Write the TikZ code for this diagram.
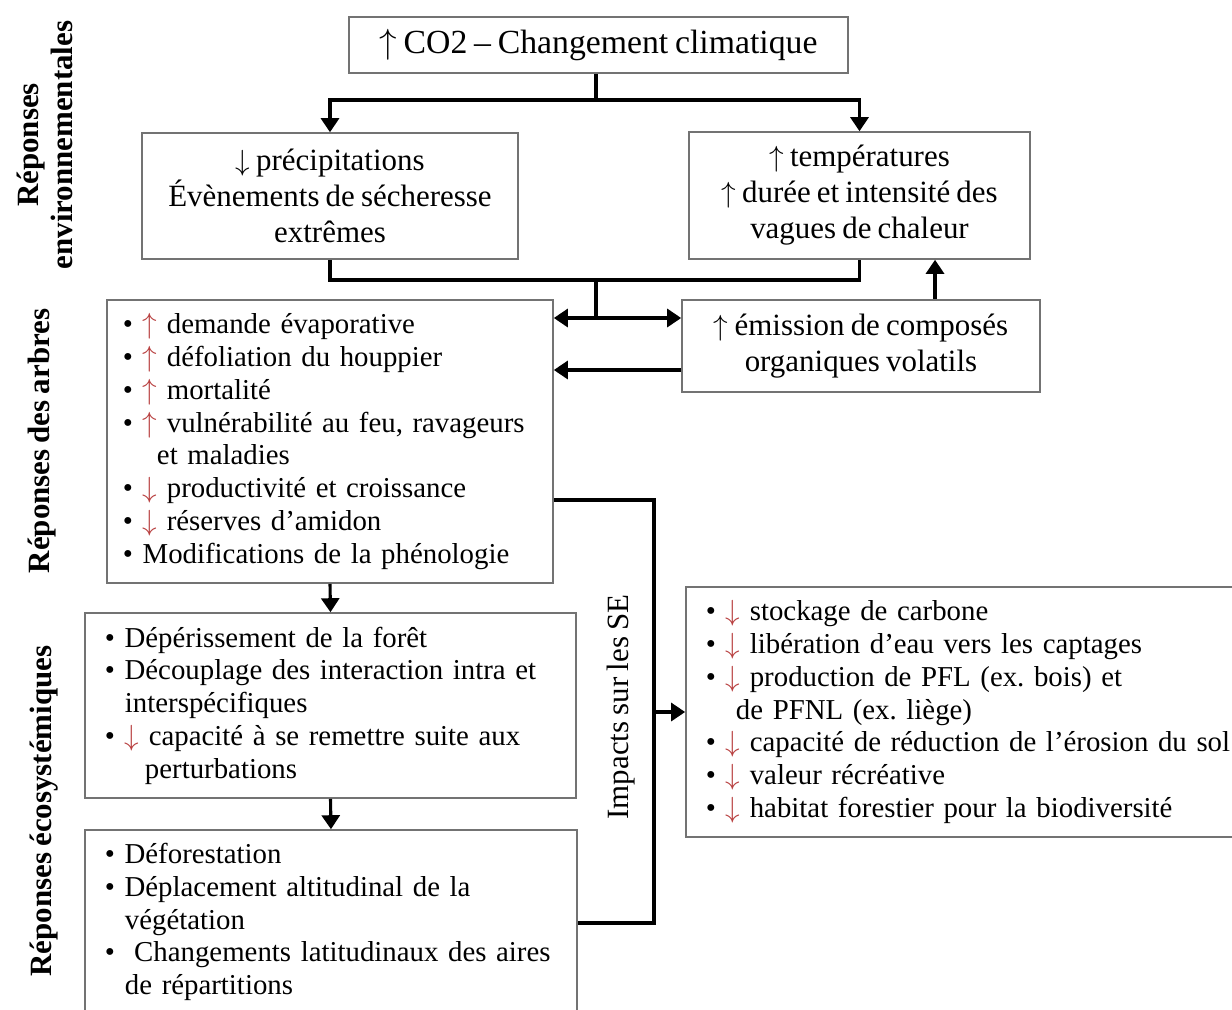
\documentclass[tikz,border=0pt]{standalone}
\usepackage{fontspec}
\setmainfont{Liberation Serif}[WordSpace=0.8]
\usetikzlibrary{positioning,arrows.meta}

\definecolor{rougefleche}{rgb}{0.72,0.25,0.25}
\newcommand{\hausse}{{\color{rougefleche}$\uparrow$}}
\newcommand{\baisse}{{\color{rougefleche}$\downarrow$}}
\frenchspacing

\tikzset{
	boite/.style={draw=black!55, line width=1.1pt, align=center, font=\fontsize{22}{25.6}\selectfont},
	liste/.style={draw=black!55, line width=1.1pt, align=left, font=\fontsize{20.5}{23.3}\selectfont},
	titreaxe/.style={rotate=90, align=center, font=\fontsize{22}{24}\selectfont\bfseries},
	ligne/.style={line width=2.2pt},
	fleche/.style={line width=2.2pt, -{Triangle[length=0.35cm,width=0.45cm]}},
	fleches/.style={line width=2.2pt, {Triangle[length=0.35cm,width=0.45cm]}-{Triangle[length=0.35cm,width=0.45cm]}}
}

\begin{document}
\begin{tikzpicture}[x=0.025cm, y=-0.025cm]
	\clip (0,0) rectangle (1232,1009);
	% titres des niveaux
	\node[titreaxe] (envTitre) at (45,145) {Réponses\\environnementales};
	\node[titreaxe] (arbTitre) at (42,441) {Réponses des arbres};
	\node[titreaxe] (ecoTitre) at (44,811) {Réponses écosystémiques};
	% boites
	\node[boite, font=\fontsize{24}{28}\selectfont, minimum width=12.475cm, minimum height=1.4cm, inner sep=0pt] (titre) at (598.5,45) {$\uparrow$ CO2 – Changement climatique};
	\node[boite, minimum width=9.4cm, minimum height=3.15cm, inner sep=0pt] (precip) at (330,196) {$\downarrow$ précipitations\\Évènements de sécheresse\\extrêmes};
	\node[boite, minimum width=8.525cm, minimum height=3.175cm, inner sep=0pt] (temp) at (859.5,195.5) {$\uparrow$ températures\\$\uparrow$ durée et intensité des\\vagues de chaleur};
	\node[boite, minimum width=8.95cm, minimum height=2.3cm, inner sep=0pt] (voc) at (861,346) {$\uparrow$ émission de composés\\organiques volatils};
	\node[liste, minimum height=7.075cm, inner xsep=0.4cm, text width=10.35cm] (arbres) at (330,441.5) {%
		• \hausse\ demande évaporative\\
		• \hausse\ défoliation du houppier\\
		• \hausse\ mortalité\\
		• \hausse\ vulnérabilité au feu, ravageurs\\
		\hspace*{0.85cm}et maladies\\
		• \baisse\ productivité et croissance\\
		• \baisse\ réserves d’amidon\\
		• Modifications de la phénologie};
	\node[liste, minimum height=4.625cm, inner xsep=0.5cm, text width=11.275cm] (eco1) at (330.5,705.5) {%
		• Dépérissement de la forêt\\
		• Découplage des interaction intra et\\
		\hspace*{0.5cm}interspécifiques\\
		• \baisse\ capacité à se remettre suite aux\\
		\hspace*{1cm}perturbations};
	\node[liste, minimum height=4.6cm, inner xsep=0.5cm, text width=11.3cm] (eco2) at (331,922) {%
		• Déforestation\\
		• Déplacement altitudinal de la\\
		\hspace*{0.5cm}végétation\\
		•\ \ Changements latitudinaux des aires\\
		\hspace*{0.5cm}de répartitions};
	\node[liste, minimum height=6.25cm, inner xsep=0.5cm, text width=13.6cm] (se) at (978,712) {%
		• \baisse\ stockage de carbone\\
		• \baisse\ libération d’eau vers les captages\\
		• \baisse\ production de PFL (ex. bois) et\\
		\hspace*{0.75cm}de PFNL (ex. liège)\\
		• \baisse\ capacité de réduction de l’érosion du sol\\
		• \baisse\ valeur récréative\\
		• \baisse\ habitat forestier pour la biodiversité};
	\node[rotate=90, font=\fontsize{22}{24}\selectfont] (impacts) at (621,707) {Impacts sur les SE};
	% points de jonction
	\coordinate (haut) at (596,100);
	\coordinate (fusion) at (596,280);
	\coordinate (jonction) at (596,318);
	\coordinate (retour) at (596,370);
	\coordinate (impHaut) at (654,500);
	\coordinate (impBas) at (654,923);
	% liaisons
	\draw[ligne] (titre.south -| haut) -- (haut);
	\draw[fleche] (haut) -| (precip.north);
	\draw[fleche] (haut) -| (temp.north);
	\draw[ligne] (precip.south) |- (fusion) -| (temp.south);
	\draw[ligne] (fusion) -- (jonction);
	\draw[fleches] (jonction -| arbres.east) -- (jonction -| voc.west);
	\draw[fleche] (retour -| voc.west) -- (retour -| arbres.east);
	\draw[fleche] ([xshift=1.85cm]voc.north) -- ([xshift=1.85cm]voc.north |- temp.south);
	\draw[fleche] (arbres.south) -- (eco1.north);
	\draw[fleche] (eco1.south) -- (eco2.north);
	\draw[ligne] (impHaut -| arbres.east) -- (impHaut) -- (impBas) -- (impBas -| eco2.east);
	\draw[fleche] (impHaut |- se.west) -- (se.west);
\end{tikzpicture}
\end{document}
